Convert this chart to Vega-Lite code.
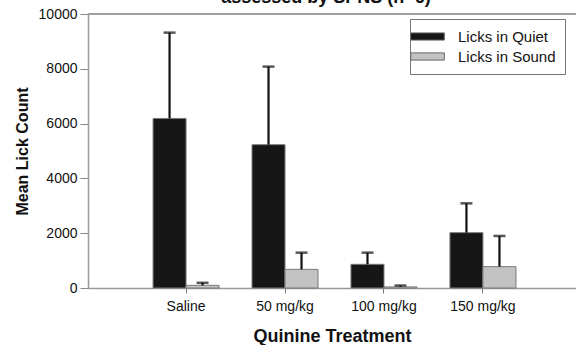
{
  "$schema": "https://vega.github.io/schema/vega-lite/v6.json",
  "width": 488,
  "height": 274,
  "autosize": {"type": "none"},
  "padding": {"left": 88, "top": 14, "right": 0, "bottom": 57},
  "background": "white",
  "config": {
    "view": {"stroke": null},
    "font": "Liberation Sans"
  },
  "title": {
    "text": "assessed by SPNS (n=6)",
    "fontSize": 18,
    "fontWeight": "bold",
    "color": "#111",
    "anchor": "middle",
    "baseline": "alphabetic",
    "offset": 0,
    "dy": 14,
    "dx": -6
  },
  "data": {
    "values": [
      {"treatment": "Saline", "series": "Licks in Quiet", "value": 6190, "upper": 9320},
      {"treatment": "Saline", "series": "Licks in Sound", "value": 98, "upper": 190},
      {"treatment": "50 mg/kg", "series": "Licks in Quiet", "value": 5230, "upper": 8080},
      {"treatment": "50 mg/kg", "series": "Licks in Sound", "value": 680, "upper": 1290},
      {"treatment": "100 mg/kg", "series": "Licks in Quiet", "value": 865, "upper": 1290},
      {"treatment": "100 mg/kg", "series": "Licks in Sound", "value": 40, "upper": 90},
      {"treatment": "150 mg/kg", "series": "Licks in Quiet", "value": 2020, "upper": 3090},
      {"treatment": "150 mg/kg", "series": "Licks in Sound", "value": 780, "upper": 1900}
    ]
  },
  "encoding": {
    "x": {
      "field": "treatment",
      "type": "nominal",
      "sort": ["Saline", "50 mg/kg", "100 mg/kg", "150 mg/kg"],
      "scale": {"paddingInner": 0.333, "paddingOuter": 0.632, "align": 0.52},
      "axis": {
        "title": "Quinine Treatment",
        "titleFontSize": 18,
        "titleFontWeight": "bold",
        "titleColor": "#111",
        "titlePadding": 14,
        "labelAngle": 0,
        "labelFontSize": 14,
        "labelColor": "#111",
        "labelPadding": 6,
        "tickSize": 5,
        "tickColor": "#777",
        "domainColor": "#999",
        "domainWidth": 1.5
      }
    },
    "xOffset": {
      "field": "series",
      "type": "nominal",
      "scale": {"domain": ["Licks in Quiet", "Licks in Sound"], "paddingInner": 0, "paddingOuter": 0}
    }
  },
  "layer": [
    {
      "mark": {"type": "rule", "color": "#a0a0a0", "strokeWidth": 1.5},
      "encoding": {
        "x": null,
        "xOffset": null,
        "y": {"datum": 10000, "type": "quantitative"}
      }
    },
    {
      "mark": {"type": "bar", "stroke": "#7a7a7a", "strokeWidth": 1},
      "encoding": {
        "y": {
          "field": "value",
          "type": "quantitative",
          "scale": {"domain": [0, 10000], "nice": false},
          "axis": {
            "title": "Mean Lick Count",
            "titleFontSize": 16,
            "titleFontWeight": "bold",
            "titleColor": "#111",
            "titlePadding": 8,
            "values": [0, 2000, 4000, 6000, 8000, 10000],
            "format": "d",
            "grid": false,
            "labelFontSize": 14,
            "labelColor": "#111",
            "labelPadding": 3,
            "tickSize": 8,
            "tickColor": "#888",
            "domainColor": "#999",
            "domainWidth": 1.5
          }
        },
        "fill": {
          "field": "series",
          "type": "nominal",
          "scale": {"domain": ["Licks in Quiet", "Licks in Sound"], "range": ["#161616", "#c2c2c2"]},
          "legend": {
            "title": null,
            "orient": "none",
            "legendX": 322,
            "legendY": 5,
            "direction": "vertical",
            "symbolType": "M-2.1,-0.45H2.1V0.45H-2.1Z",
            "symbolSize": 256,
            "symbolStrokeColor": "#666",
            "symbolStrokeWidth": 1,
            "labelFontSize": 15,
            "labelColor": "#111",
            "labelOffset": 22,
            "rowPadding": 3,
            "padding": 9,
            "strokeColor": "#777",
            "fillColor": "white"
          }
        }
      }
    },
    {
      "mark": {"type": "rule", "color": "#111", "strokeWidth": 2.2},
      "encoding": {
        "y": {"field": "value", "type": "quantitative"},
        "y2": {"field": "upper"}
      }
    },
    {
      "mark": {"type": "tick", "color": "#111", "size": 12, "thickness": 2.5},
      "encoding": {
        "y": {"field": "upper", "type": "quantitative"}
      }
    }
  ]
}
